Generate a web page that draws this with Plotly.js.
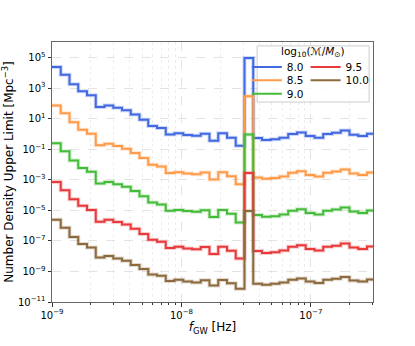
<!DOCTYPE html>
<html>
<head>
<meta charset="utf-8">
<script src="https://cdn.plot.ly/plotly-3.0.1.min.js"></script>
<style>
  body { margin: 0; background: #fff; }
  #plotArea { width: 415px; height: 346px; }
</style>
</head>
<body>
<div id="plotArea"></div>
<script>
// frequency bin edges [Hz] (log-spaced bins, last one runs past the axis)
var fEdges = [1.000e-9, 1.168e-9, 1.365e-9, 1.595e-9, 1.864e-9, 2.178e-9, 2.544e-9, 2.973e-9,
    3.474e-9, 4.059e-9, 4.742e-9, 5.541e-9, 6.474e-9, 7.564e-9, 8.838e-9, 1.033e-8,
    1.207e-8, 1.410e-8, 1.647e-8, 1.925e-8, 2.249e-8, 2.627e-8, 3.070e-8, 3.587e-8,
    4.191e-8, 4.897e-8, 5.721e-8, 6.685e-8, 7.810e-8, 9.125e-8, 1.067e-7, 1.246e-7,
    1.456e-7, 1.701e-7, 1.988e-7, 2.323e-7, 2.714e-7, 3.171e-7];

// log10 of number density upper limit [Mpc^-3], one value per bin
var logN_80 = [4.39, 3.88, 3.25, 2.79, 2.53, 1.76, 1.87, 1.72, 1.56, 1.28, 0.93, 0.52, 0.39,
    -0.03, 0.04, -0.07, -0.11, 0.02, -0.44, 0.04, -0.24, -0.77, 4.97, -0.27, -0.40, -0.35,
    -0.24, 0.00, 0.10, -0.14, -0.24, 0.00, 0.08, 0.22, -0.05, -0.14, 0.02];
var logN_85 = [1.87, 1.35, 0.76, 0.28, 0.02, -0.74, -0.64, -0.78, -0.96, -1.25, -1.58, -2.02, -2.13,
    -2.56, -2.50, -2.59, -2.64, -2.52, -2.98, -2.50, -2.77, -3.30, 2.47, -2.85, -2.94, -2.89,
    -2.78, -2.54, -2.44, -2.68, -2.78, -2.54, -2.46, -2.32, -2.59, -2.68, -2.52];
var logN_90 = [-0.60, -1.13, -1.74, -2.22, -2.48, -3.25, -3.15, -3.30, -3.46, -3.74, -4.08, -4.48, -4.61,
    -5.02, -4.98, -5.05, -5.10, -5.00, -5.43, -4.97, -5.23, -5.79, -0.03, -5.30, -5.42, -5.38,
    -5.27, -5.03, -4.93, -5.17, -5.27, -5.03, -4.95, -4.81, -5.08, -5.17, -5.01];
var logN_95 = [-3.14, -3.68, -4.27, -4.70, -4.98, -5.75, -5.62, -5.77, -5.92, -6.20, -6.55, -6.93, -7.05,
    -7.47, -7.39, -7.50, -7.54, -7.40, -7.85, -7.38, -7.65, -8.15, -2.56, -7.66, -7.79, -7.74,
    -7.63, -7.39, -7.29, -7.53, -7.63, -7.39, -7.31, -7.17, -7.44, -7.53, -7.37];
var logN_100 = [-5.61, -6.14, -6.74, -7.20, -7.44, -8.08, -7.99, -8.15, -8.30, -8.58, -8.84, -9.20, -9.28,
    -9.62, -9.55, -9.66, -9.72, -9.57, -9.92, -9.56, -9.77, -10.13, -5.05, -9.80, -9.87, -9.80,
    -9.72, -9.54, -9.46, -9.65, -9.76, -9.54, -9.48, -9.37, -9.59, -9.65, -9.52];

var massLabels = ["8.0", "8.5", "9.0", "9.5", "10.0"];
var massData = [logN_80, logN_85, logN_90, logN_95, logN_100];
var colors = ["#4169e1", "#ff9a48", "#45bb3a", "#e8393b", "#8c6a3e"];
// one legend per entry, laid out as two columns: 8.0 / 8.5 / 9.0 and 9.5 / 10.0
var legendIds = ["legend", "legend2", "legend3", "legend4", "legend5"];

var xTicks = [1e-9, 1e-8, 1e-7];
var xTickText = ["10<sup>−9</sup>", "10<sup>−8</sup>", "10<sup>−7</sup>"];
var yTicks = [1e-11, 1e-9, 1e-7, 1e-5, 1e-3, 1e-1, 1e1, 1e3, 1e5];
var yTickText = ["10<sup>−11</sup>", "10<sup>−9</sup>", "10<sup>−7</sup>", "10<sup>−5</sup>",
    "10<sup>−3</sup>", "10<sup>−1</sup>", "10<sup>1</sup>", "10<sup>3</sup>", "10<sup>5</sup>"];
var minorX = [2e-9, 3e-9, 4e-9, 5e-9, 6e-9, 7e-9, 8e-9, 9e-9,
    2e-8, 3e-8, 4e-8, 5e-8, 6e-8, 7e-8, 8e-8, 9e-8, 2e-7, 3e-7];

var font = "DejaVu Sans, sans-serif";
var data = [];

for (var i = 0; i < massData.length; i++) {
    var y = massData[i].map(function (v) { return Math.pow(10, v); });
    y.push(y[y.length - 1]); // repeat last value so the last step is drawn

    // soft halo under the line
    data.push({
        x: fEdges, y: y, mode: "lines",
        line: {shape: "hv", color: colors[i], width: 4},
        opacity: 0.25, showlegend: false, hoverinfo: "skip"
    });
    data.push({
        x: fEdges, y: y, mode: "lines", name: massLabels[i],
        line: {shape: "hv", color: colors[i], width: 2},
        legend: legendIds[i]
    });
}

function legendAt(xPos, yPos) {
    return {
        x: xPos, y: yPos, xanchor: "left", yanchor: "middle",
        bgcolor: "rgba(0,0,0,0)", borderwidth: 0,
        font: {size: 10.5}, itemwidth: 30
    };
}

var layout = {
    width: 415,
    height: 346,
    margin: {l: 52, r: 42, t: 42, b: 44},
    paper_bgcolor: "#fff",
    plot_bgcolor: "#fff",
    font: {family: font, size: 10, color: "#000"},
    xaxis: {
        type: "log",
        range: [-9, -6.52],
        tickmode: "array", tickvals: xTicks, ticktext: xTickText,
        showline: true, mirror: true, linecolor: "#666", linewidth: 1,
        ticks: "outside", ticklen: 3.5, tickcolor: "#333",
        showgrid: true, gridcolor: "#dcdcdc", griddash: "dash", gridwidth: 0.8,
        minor: {tickmode: "array", tickvals: minorX, ticks: "outside", ticklen: 2,
            tickcolor: "#333", showgrid: true, gridcolor: "#e8e8e8", griddash: "dot", gridwidth: 0.8},
        zeroline: false,
        title: {text: "<i>f</i><sub>GW</sub> [Hz]", font: {size: 12}, standoff: 3}
    },
    yaxis: {
        type: "log",
        range: [-11, 6.02],
        tickmode: "array", tickvals: yTicks, ticktext: yTickText,
        showline: true, mirror: true, linecolor: "#666", linewidth: 1,
        ticks: "outside", ticklen: 3.5, tickcolor: "#333",
        showgrid: true, gridcolor: "#dcdcdc", griddash: "dash", gridwidth: 0.8,
        zeroline: false,
        title: {text: "Number Density Upper Limit [Mpc<sup>−3</sup>]", font: {size: 12}, standoff: 6}
    },
    legend: legendAt(0.607, 0.904),
    legend2: legendAt(0.607, 0.853),
    legend3: legendAt(0.607, 0.801),
    legend4: legendAt(0.790, 0.904),
    legend5: legendAt(0.790, 0.853),
    shapes: [{
        type: "rect", xref: "paper", yref: "paper",
        x0: 0.639, x1: 0.988, y0: 0.769, y1: 0.985,
        fillcolor: "rgba(255,255,255,0.85)", line: {color: "#cccccc", width: 1},
        layer: "above"
    }],
    annotations: [{
        xref: "paper", yref: "paper", x: 0.813, y: 0.963,
        xanchor: "center", yanchor: "middle",
        text: "log<sub>10</sub>(<i>ℳ</i>/<i>M</i><sub>⊙</sub>)",
        showarrow: false, font: {size: 10.5}
    }]
};

Plotly.newPlot("plotArea", data, layout, {displayModeBar: false, staticPlot: true});
</script>
</body>
</html>
